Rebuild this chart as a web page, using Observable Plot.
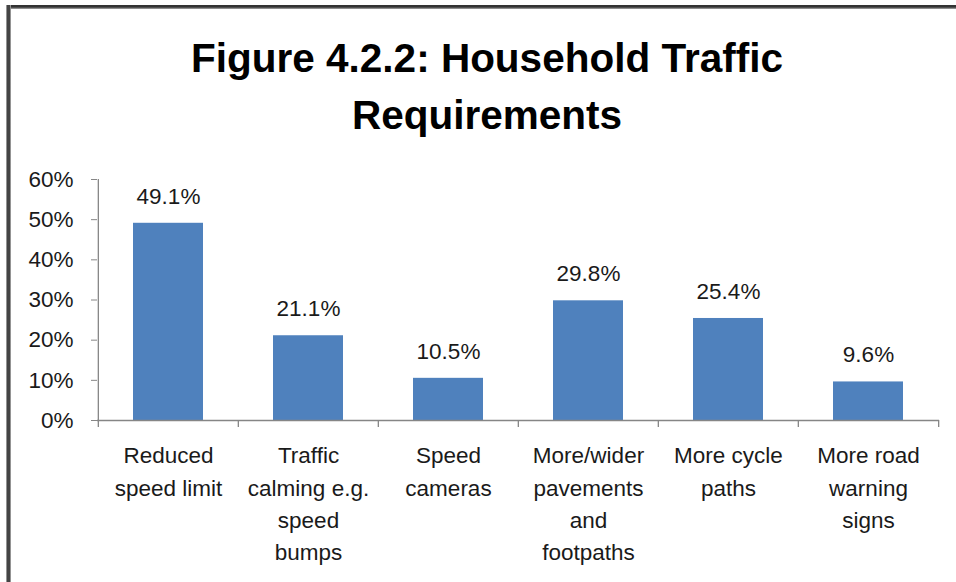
<!DOCTYPE html>
<html><head><meta charset="utf-8">
<script src="https://cdn.jsdelivr.net/npm/d3@7"></script>
<script src="https://cdn.jsdelivr.net/npm/@observablehq/plot@0.6"></script>
<style>
html,body{margin:0;padding:0;background:#fff;}
#wrap{position:relative;width:956px;height:582px;overflow:hidden;background:#fff;}
#title{position:absolute;left:0;top:30px;width:974px;text-align:center;font-family:"Liberation Sans";font-weight:bold;font-size:40.5px;line-height:57px;color:#000;}
#chart{position:absolute;left:0;top:140px;}
.bl{position:absolute;left:6px;top:5px;width:5px;height:577px;background:linear-gradient(to right,#bbb,#444 30%,#444 70%,#bbb);}
.bt{position:absolute;left:6px;top:5px;width:950px;height:4px;background:linear-gradient(to bottom,#333,#333 50%,#aaa);}
</style></head>
<body>
<div id="wrap">
  <div class="bt"></div>
  <div class="bl"></div>
  <div id="title">Figure 4.2.2: Household Traffic<br>Requirements</div>
  <div id="chart"></div>
</div>
<script>
const categories = [
  "Reduced\nspeed limit",
  "Traffic\ncalming e.g.\nspeed\nbumps",
  "Speed\ncameras",
  "More/wider\npavements\nand\nfootpaths",
  "More cycle\npaths",
  "More road\nwarning\nsigns"
];
const values = [49.1, 21.1, 10.5, 29.8, 25.4, 9.6];
const yTicks = [0, 10, 20, 30, 40, 50, 60];

const data = categories.map((c, i) => ({category: c, value: values[i]}));

const W = 956, H = 442, ML = 97, MR = 17, MT = 39, MB = 162;
const step = (W - ML - MR) / categories.length;
const yMax = 60;
const tickUnits = yMax / (H - MT - MB) * 7;
const axisGray = "#868686";
const textColor = "#1a1a1a";
const fs = 22.5;

const chart = Plot.plot({
  width: W,
  height: H,
  marginLeft: ML,
  marginRight: MR,
  marginTop: MT,
  marginBottom: MB,
  style: {fontFamily: "Liberation Sans", fontSize: fs + "px", background: "transparent", color: textColor},
  x: {domain: categories, paddingInner: 0.5, paddingOuter: 0.25, axis: null},
  y: {domain: [0, yMax], axis: null},
  marks: [
    Plot.barY(data, {x: "category", y: "value", fill: "#4F81BD"}),
    Plot.ruleY([0], {stroke: axisGray, strokeWidth: 1.3}),
    // y axis line (left edge of first category)
    Plot.ruleX(categories.slice(0, 1), {x: d => d, y1: -tickUnits, y2: yMax, dx: -step / 2, stroke: axisGray, strokeWidth: 1.3}),
    // category boundary ticks
    Plot.ruleX(categories.slice(1), {x: d => d, y1: -tickUnits, y2: 0, dx: -step / 2, stroke: axisGray, strokeWidth: 1.3}),
    Plot.ruleX(categories.slice(-1), {x: d => d, y1: -tickUnits, y2: 0, dx: step / 2, stroke: axisGray, strokeWidth: 1.3}),
    Plot.axisY({ticks: yTicks, label: null, tickSize: 6, tickPadding: 18, stroke: axisGray, fill: textColor, tickFormat: d => d + "%", fontSize: fs}),
    Plot.text(data, {x: "category", y: "value", text: d => d.value.toFixed(1) + "%", lineAnchor: "bottom", dy: -19.5, fill: textColor, fontSize: fs}),
    Plot.text(data, {x: "category", frameAnchor: "bottom", text: "category", lineAnchor: "top", dy: 20, lineHeight: 1.43, fill: textColor, fontSize: fs})
  ]
});
document.getElementById("chart").appendChild(chart);
</script>
</body></html>
